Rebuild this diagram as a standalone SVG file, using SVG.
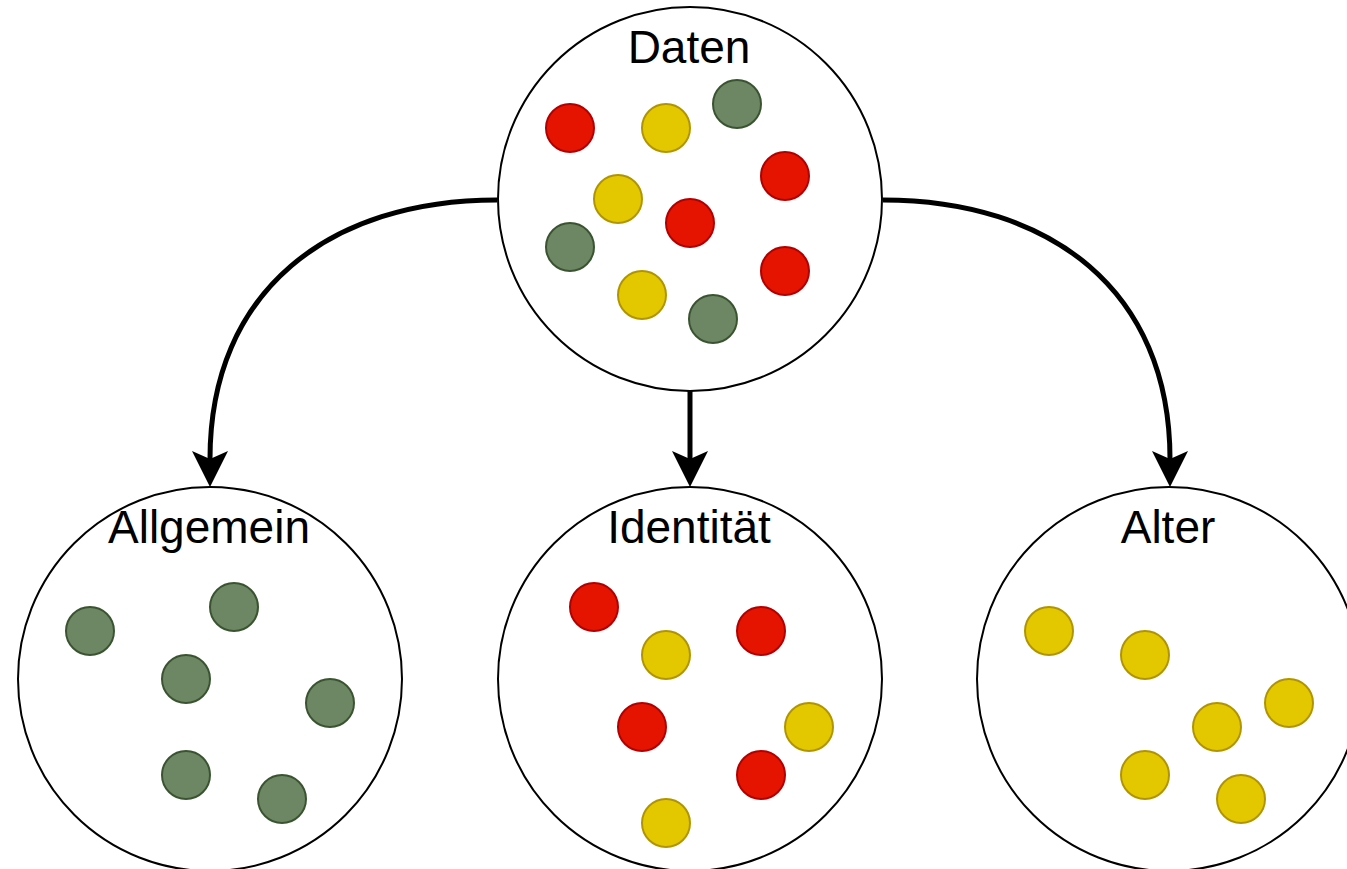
<svg xmlns="http://www.w3.org/2000/svg" width="1347" height="869" viewBox="0 0 1347 869">
  <style>
    .set { fill: #ffffff; stroke: #000000; stroke-width: 2; }
    .label { font-family: "Liberation Sans", Arial, sans-serif; font-size: 46px; fill: #000000; text-anchor: middle; }
    .red { fill: #e51400; stroke: #b20000; stroke-width: 2; }
    .yellow { fill: #e3c800; stroke: #b09500; stroke-width: 2; }
    .green { fill: #6d8764; stroke: #3a5431; stroke-width: 2; }
    .link { fill: none; stroke: #000000; stroke-width: 5; }
  </style>
  <defs>
    <marker id="arrowhead" markerUnits="userSpaceOnUse" viewBox="-2 -20 40 40" markerWidth="40" markerHeight="40" refX="8" refY="0" orient="auto">
      <path d="M36,0 L0,-18 L8,0 L0,18 Z" fill="#000000"/>
    </marker>
  </defs>

  <rect x="0" y="0" width="1347" height="869" fill="#ffffff"/>

  <!-- connectors -->
  <g id="connectors">
    <path class="link" d="M497,200 C330,200 210,290 210,459" marker-end="url(#arrowhead)"/>
    <path class="link" d="M690,391 L690,459" marker-end="url(#arrowhead)"/>
    <path class="link" d="M883,200 C1050,200 1170,290 1170,459" marker-end="url(#arrowhead)"/>
  </g>

  <!-- source set -->
  <g id="daten">
    <circle class="set" cx="690" cy="199" r="192"/>
    <text class="label" x="689" y="63">Daten</text>
    <circle class="red" cx="570" cy="128" r="24"/>
    <circle class="yellow" cx="666" cy="128" r="24"/>
    <circle class="green" cx="737" cy="104" r="24"/>
    <circle class="red" cx="785" cy="176" r="24"/>
    <circle class="yellow" cx="618" cy="199" r="24"/>
    <circle class="red" cx="690" cy="223" r="24"/>
    <circle class="green" cx="570" cy="247" r="24"/>
    <circle class="red" cx="785" cy="271" r="24"/>
    <circle class="yellow" cx="642" cy="295" r="24"/>
    <circle class="green" cx="713" cy="319" r="24"/>
  </g>

  <!-- result sets -->
  <g id="allgemein">
    <circle class="set" cx="210" cy="679" r="192"/>
    <text class="label" x="209" y="543">Allgemein</text>
    <circle class="green" cx="90" cy="631" r="24"/>
    <circle class="green" cx="234" cy="607" r="24"/>
    <circle class="green" cx="186" cy="679" r="24"/>
    <circle class="green" cx="330" cy="703" r="24"/>
    <circle class="green" cx="186" cy="775" r="24"/>
    <circle class="green" cx="282" cy="799" r="24"/>
  </g>

  <g id="identitaet">
    <circle class="set" cx="690" cy="679" r="192"/>
    <text class="label" x="689" y="543">Identität</text>
    <circle class="red" cx="594" cy="607" r="24"/>
    <circle class="yellow" cx="666" cy="655" r="24"/>
    <circle class="red" cx="761" cy="631" r="24"/>
    <circle class="red" cx="642" cy="727" r="24"/>
    <circle class="yellow" cx="809" cy="727" r="24"/>
    <circle class="red" cx="761" cy="775" r="24"/>
    <circle class="yellow" cx="666" cy="823" r="24"/>
  </g>

  <g id="alter">
    <circle class="set" cx="1169" cy="679" r="192"/>
    <text class="label" x="1168" y="543">Alter</text>
    <circle class="yellow" cx="1049" cy="631" r="24"/>
    <circle class="yellow" cx="1145" cy="655" r="24"/>
    <circle class="yellow" cx="1217" cy="727" r="24"/>
    <circle class="yellow" cx="1289" cy="703" r="24"/>
    <circle class="yellow" cx="1145" cy="775" r="24"/>
    <circle class="yellow" cx="1241" cy="799" r="24"/>
  </g>
</svg>
